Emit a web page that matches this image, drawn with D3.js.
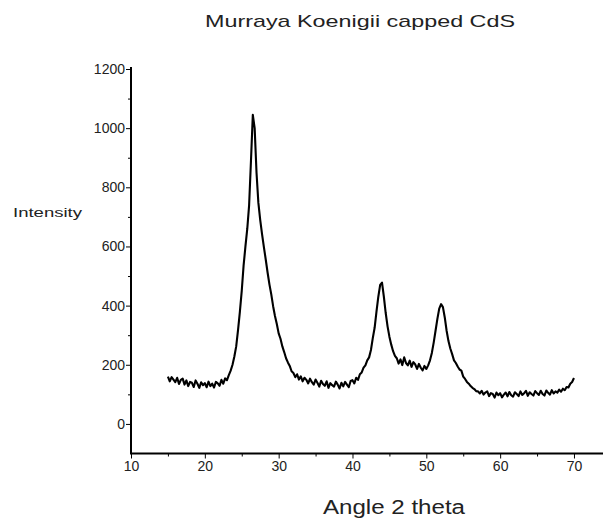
<!DOCTYPE html>
<html lang="en">
<head>
<meta charset="UTF-8">
<title>Murraya Koenigii capped CdS</title>
<script src="https://cdn.jsdelivr.net/npm/d3@7"></script>
<style>
  body { margin: 0; background: #fff; }
  svg { display: block; font-family: "Liberation Sans", Arial, sans-serif; }
  .axis path, .axis line { stroke: #000; }
  .axis text { fill: #222; font-size: 14px; }
</style>
</head>
<body>
<svg width="603" height="518"></svg>
<script>
// tick labels
var xTicks = [10, 20, 30, 40, 50, 60, 70];
var xMinor = [15, 25, 35, 45, 55, 65];
var yTicks = [0, 200, 400, 600, 800, 1000, 1200];
var yMinor = [100, 300, 500, 700, 900, 1100];

// diffraction pattern (0.25 deg sampling)
var angle = [
  15, 15.25, 15.5, 15.75, 16, 16.25, 16.5, 16.75, 17, 17.25, 17.5, 17.75, 18, 18.25, 18.5, 18.75, 19, 19.25, 19.5, 19.75,
  20, 20.25, 20.5, 20.75, 21, 21.25, 21.5, 21.75, 22, 22.25, 22.5, 22.75, 23, 23.25, 23.5, 23.75, 24, 24.25, 24.5, 24.75,
  25, 25.25, 25.5, 25.75, 26, 26.25, 26.5, 26.75, 27, 27.25, 27.5, 27.75, 28, 28.25, 28.5, 28.75, 29, 29.25, 29.5, 29.75,
  30, 30.25, 30.5, 30.75, 31, 31.25, 31.5, 31.75, 32, 32.25, 32.5, 32.75, 33, 33.25, 33.5, 33.75, 34, 34.25, 34.5, 34.75,
  35, 35.25, 35.5, 35.75, 36, 36.25, 36.5, 36.75, 37, 37.25, 37.5, 37.75, 38, 38.25, 38.5, 38.75, 39, 39.25, 39.5, 39.75,
  40, 40.25, 40.5, 40.75, 41, 41.25, 41.5, 41.75, 42, 42.25, 42.5, 42.75, 43, 43.25, 43.5, 43.75, 44, 44.25, 44.5, 44.75,
  45, 45.25, 45.5, 45.75, 46, 46.25, 46.5, 46.75, 47, 47.25, 47.5, 47.75, 48, 48.25, 48.5, 48.75, 49, 49.25, 49.5, 49.75,
  50, 50.25, 50.5, 50.75, 51, 51.25, 51.5, 51.75, 52, 52.25, 52.5, 52.75, 53, 53.25, 53.5, 53.75, 54, 54.25, 54.5, 54.75,
  55, 55.25, 55.5, 55.75, 56, 56.25, 56.5, 56.75, 57, 57.25, 57.5, 57.75, 58, 58.25, 58.5, 58.75, 59, 59.25, 59.5, 59.75,
  60, 60.25, 60.5, 60.75, 61, 61.25, 61.5, 61.75, 62, 62.25, 62.5, 62.75, 63, 63.25, 63.5, 63.75, 64, 64.25, 64.5, 64.75,
  65, 65.25, 65.5, 65.75, 66, 66.25, 66.5, 66.75, 67, 67.25, 67.5, 67.75, 68, 68.25, 68.5, 68.75, 69, 69.25, 69.5, 69.75,
  70
];
var intensity = [
  160, 144, 158, 150, 141, 156, 135, 149, 153, 133, 147, 128, 142, 139, 125, 147, 136, 122, 141, 131,
  138, 124, 143, 128, 136, 123, 142, 137, 129, 149, 136, 154, 148, 165, 180, 200, 228, 262, 318, 380,
  450, 535, 600, 660, 740, 890, 1045, 1000, 850, 748, 690, 642, 598, 556, 512, 472, 438, 398, 365, 338,
  306, 288, 262, 243, 222, 208, 196, 178, 172, 158, 168, 150, 161, 144, 156, 149, 137, 153, 141, 133,
  150, 139, 126, 146, 135, 129, 144, 122, 138, 131, 126, 143, 133, 120, 139, 127, 142, 133, 124, 145,
  148, 137, 156, 149, 168, 174, 190, 198, 215, 225, 250, 290, 325, 380, 430, 470, 478, 430, 375, 330,
  295, 268, 246, 230, 222, 204, 218, 199, 225, 206, 198, 214, 193, 209, 201, 186, 203, 190, 181, 196,
  186, 198, 215, 240, 275, 315, 355, 390, 405, 395, 360, 315, 280, 255, 236, 215, 206, 194, 184, 180,
  160, 152, 142, 136, 128, 122, 118, 111, 110, 103, 112, 99, 106, 110, 94, 104, 101, 89, 106, 97,
  104, 90, 99, 106, 93, 108, 97, 92, 107, 101, 94, 110, 98, 104, 112, 95, 107, 101, 96, 111,
  104, 98, 112, 101, 96, 113, 105, 99, 114, 103, 110, 106, 116, 109, 119, 114, 125, 123, 136, 142,
  155
];

var svg = d3.select("svg"),
    width = +svg.attr("width"),
    height = +svg.attr("height");

svg.append("rect").attr("width", width).attr("height", height).attr("fill", "#fff");

var x = d3.scaleLinear().domain([10, 74]).range([131, 603.5]);
var y = d3.scaleLinear().domain([-100, 1200]).range([453.5, 69]);

// y axis
svg.append("g")
    .attr("class", "axis")
    .attr("transform", "translate(" + x(10) + ",0)")
    .call(d3.axisLeft(y).tickValues(yMinor).tickSize(3).tickFormat(""))
    .call(function(g) { g.select(".domain").remove(); });

svg.append("g")
    .attr("class", "axis")
    .attr("transform", "translate(" + x(10) + ",0)")
    .call(d3.axisLeft(y).tickValues(yTicks).tickSize(5).tickSizeOuter(0).tickPadding(1).tickFormat(d3.format("d")))
    .call(function(g) {
        g.select(".domain").attr("d", "M0," + (y(1200) - 2) + "V" + y(-100)).attr("stroke-width", 2);
    });

// x axis
svg.append("g")
    .attr("class", "axis")
    .attr("transform", "translate(0," + y(-100) + ")")
    .call(d3.axisBottom(x).tickValues(xMinor).tickSize(3).tickFormat(""))
    .call(function(g) { g.select(".domain").remove(); });

svg.append("g")
    .attr("class", "axis")
    .attr("transform", "translate(0," + y(-100) + ")")
    .call(d3.axisBottom(x).tickValues(xTicks).tickSize(5).tickSizeOuter(0).tickPadding(3).tickFormat(d3.format("d")))
    .call(function(g) {
        g.select(".domain").attr("d", "M" + (x(10) - 1) + ",0H603").attr("stroke-width", 2);
        g.selectAll("text").attr("font-size", 15);
    });

// curve
var line = d3.line()
    .x(function(d, i) { return x(angle[i]); })
    .y(function(d) { return y(d); });

svg.append("path")
    .datum(intensity)
    .attr("fill", "none")
    .attr("stroke", "#000")
    .attr("stroke-width", 2.1)
    .attr("stroke-linejoin", "round")
    .attr("d", line);

// titles
svg.append("text")
    .attr("x", 360).attr("y", 27)
    .attr("text-anchor", "middle")
    .attr("font-size", 17)
    .attr("fill", "#222")
    .attr("textLength", 310)
    .attr("lengthAdjust", "spacingAndGlyphs")
    .text("Murraya Koenigii capped CdS");

svg.append("text")
    .attr("x", 13).attr("y", 217)
    .attr("font-size", 12)
    .attr("fill", "#222")
    .attr("textLength", 69)
    .attr("lengthAdjust", "spacingAndGlyphs")
    .text("Intensity");

svg.append("text")
    .attr("x", 394).attr("y", 514)
    .attr("text-anchor", "middle")
    .attr("font-size", 20)
    .attr("fill", "#222")
    .attr("textLength", 142)
    .attr("lengthAdjust", "spacingAndGlyphs")
    .text("Angle 2 theta");
</script>
</body>
</html>
